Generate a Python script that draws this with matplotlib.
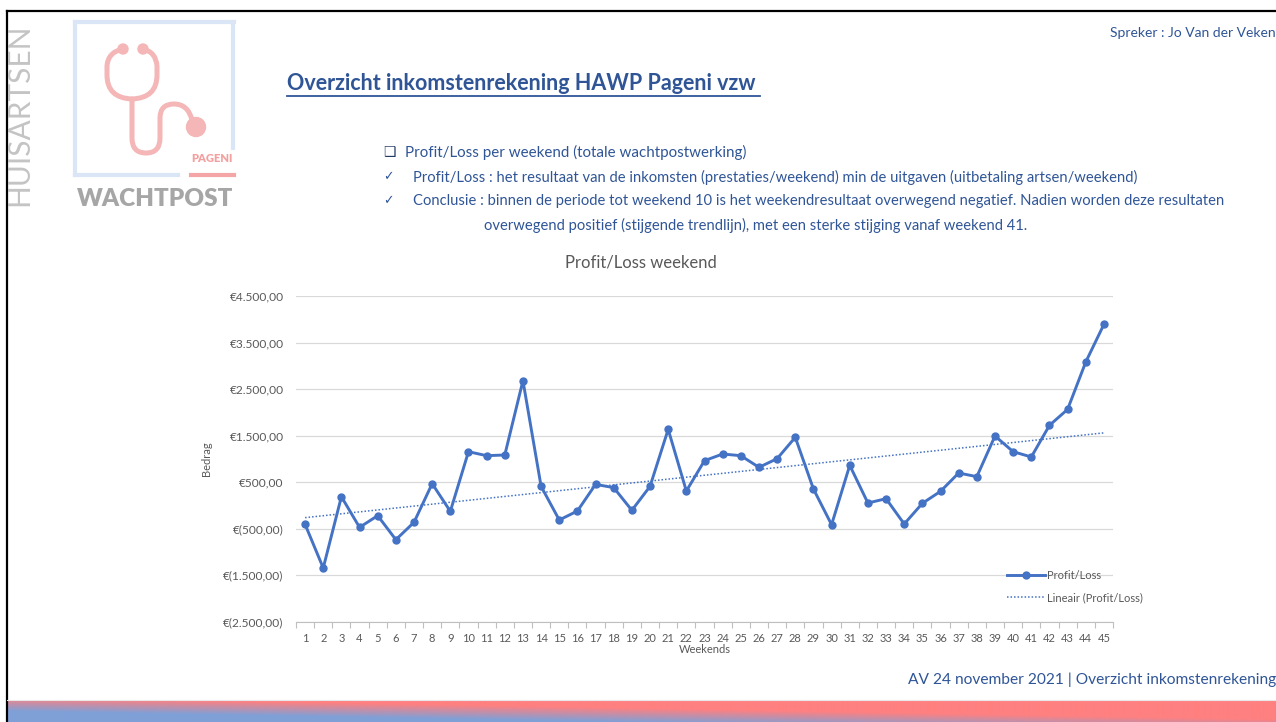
import numpy as np
import matplotlib
matplotlib.use("Agg")
import matplotlib.pyplot as plt
from matplotlib.path import Path
from matplotlib.patches import PathPatch, Circle

# ---------- data ----------
weekends = list(range(1, 46))
profit_loss = [-407, -1346, 187, -472, -221, -737, -364, 467, -128, 1154,
               1068, 1083, 2680, 409, -314, -121, 452, 381, -106, 409,
               1634, 309, 961, 1104, 1068, 818, 1004, 1463, 352, -415,
               861, 51, 144, -400, 44, 302, 696, 617, 1491, 1154,
               1040, 1720, 2064, 3082, 3891]
y_ticks = [-2500, -1500, -500, 500, 1500, 2500, 3500, 4500]

BLUE = "#4472C4"
TXT = "#2F5597"
GREY = "#595959"

plt.rcParams['font.family'] = ['Lato', 'DejaVu Sans']

fig = plt.figure(figsize=(12.76, 7.22), dpi=100)

# background layer in pixel coordinates
bg = fig.add_axes([0, 0, 1, 1])
bg.set_xlim(0, 1276)
bg.set_ylim(722, 0)
bg.axis("off")

# slide frame
bg.plot([7, 1276], [11, 11], color="black", lw=1.6)
bg.plot([7, 7], [11, 722], color="black", lw=1.6)

# bottom gradient band
H, W = 22, 1276
s = np.linspace(0, 1, H)[:, None]
h = np.linspace(0, 1, W)[None, :]
t = np.clip(0.25 + 1.5 * s - 1.6 * h, 0, 1)[..., None]
pink = np.array([255, 128, 128]) / 255
blue = np.array([127, 160, 215]) / 255
band = pink * (1 - t) + blue * t
bg.imshow(band, extent=(7, 1276, 722, 700), aspect="auto", zorder=1)
bg.plot([7, 1276], [699.5, 699.5], color="#E8E8E8", lw=0.8)

# logo
LB = "#DAE5F5"
PK = "#F4B6B6"
bg.plot([75, 234], [22, 22], color=LB, lw=3)
bg.plot([75, 75], [22, 175], color=LB, lw=3)
bg.plot([75, 178], [175, 175], color=LB, lw=3)
bg.plot([233, 233], [22, 148], color=LB, lw=3)
bg.plot([191, 234], [175, 175], color="#F4A6A6", lw=3)
bg.text(212, 158, "PAGENI", color="#F4A0A0", fontsize=8, fontweight="heavy",
        ha="center", va="center")
bg.text(155, 199, "WACHTPOST", color="#A6A6A6", fontsize=17.5, fontweight="heavy",
        ha="center", va="center")
bg.text(19, 115, "HUISARTSEN", color="#C4C4C4", fontsize=21.5, rotation=90,
        ha="center", va="center")

verts = [(123, 49), (108, 52), (107, 66),
         (107, 75), (107, 98), (132, 99),
         (157, 98), (157, 75), (157, 66),
         (156, 52), (143, 49)]
codes = [Path.MOVETO, Path.CURVE3, Path.CURVE3,
         Path.LINETO, Path.CURVE3, Path.CURVE3,
         Path.CURVE3, Path.CURVE3, Path.LINETO,
         Path.CURVE3, Path.CURVE3]
bg.add_patch(PathPatch(Path(verts, codes), fill=False, ec=PK, lw=3.6, capstyle="round"))
verts2 = [(132, 99), (132, 138), (132, 153), (146, 153), (160, 153), (160, 138),
          (160, 118), (160, 104), (174, 104), (188, 104), (192, 120)]
codes2 = [Path.MOVETO, Path.LINETO, Path.CURVE3, Path.CURVE3, Path.CURVE3, Path.CURVE3,
          Path.LINETO, Path.CURVE3, Path.CURVE3, Path.CURVE3, Path.CURVE3]
bg.add_patch(PathPatch(Path(verts2, codes2), fill=False, ec=PK, lw=3.6, capstyle="round"))
bg.add_patch(Circle((123, 49), 5, color=PK))
bg.add_patch(Circle((143, 49), 5, color=PK))
bg.add_patch(Circle((196, 127), 9.5, color=PK))

# header texts
bg.text(1276, 33, "Spreker : Jo Van der Veken", color=TXT, fontsize=10, ha="right", va="center")
bg.text(287, 84, "Overzicht inkomstenrekening HAWP Pageni vzw", color=TXT,
        fontsize=15.5, fontweight="bold", ha="left", va="center")
bg.plot([287, 760], [96, 96], color=TXT, lw=1.3)

bg.text(383, 152, "\u2751", color="#1F3864", fontsize=10, family="DejaVu Sans", ha="left", va="center")
bg.text(405, 152, "Profit/Loss per weekend (totale wachtpostwerking)", color=TXT,
        fontsize=10.9, ha="left", va="center")
bg.text(383, 177, "\u2713", color=TXT, fontsize=9, family="DejaVu Sans", ha="left", va="center")
bg.text(413, 177, "Profit/Loss : het resultaat van de inkomsten (prestaties/weekend) min de uitgaven "
        "(uitbetaling artsen/weekend)", color=TXT, fontsize=10.6, ha="left", va="center")
bg.text(383, 201, "\u2713", color=TXT, fontsize=9, family="DejaVu Sans", ha="left", va="center")
bg.text(413, 201, "Conclusie : binnen de periode tot weekend 10 is het weekendresultaat overwegend negatief. "
        "Nadien worden deze resultaten", color=TXT, fontsize=10.6, ha="left", va="center")
bg.text(484, 225, "overwegend positief (stijgende trendlijn), met een sterke stijging vanaf weekend 41.",
        color=TXT, fontsize=10.6, ha="left", va="center")

bg.text(641, 262, "Profit/Loss weekend", color=GREY, fontsize=12, ha="center", va="center")
bg.text(1276, 680, "AV 24 november 2021 | Overzicht inkomstenrekening", color=TXT,
        fontsize=11.2, ha="right", va="center")

# ---------- chart ----------
ax = fig.add_axes([296 / 1276, 1 - 621.7 / 722, 817 / 1276, 325.7 / 722])
ax.set_facecolor("none")

x = np.array(weekends)
y = np.array(profit_loss)
coef = np.polyfit(x, y, 1)
ax.plot(x, y, color=BLUE, lw=2.1, marker="o", ms=5, label="Profit/Loss", zorder=3)
ax.plot(x, np.polyval(coef, x), color=BLUE, lw=1.1, ls=(0, (1, 1.3)),
        label="Lineair (Profit/Loss)", zorder=2)

ax.set_xlim(0.5, 45.5)
ax.set_ylim(-2500, 4500)
ax.set_yticks(y_ticks)


def euro(v):
    txt = f"{abs(v):,.2f}".replace(",", "X").replace(".", ",").replace("X", ".")
    return f"€{txt}" if v >= 0 else f"€({txt})"


ax.set_yticklabels([euro(v) for v in y_ticks])
ax.set_xticks(weekends)
ax.set_xticks(np.arange(0.5, 46, 1), minor=True)
ax.tick_params(axis="x", which="major", length=0, labelsize=8, labelcolor=GREY, pad=8)
ax.tick_params(axis="x", which="minor", length=4, color="#BFBFBF", width=0.8)
ax.tick_params(axis="y", length=0, labelsize=8.6, labelcolor=GREY, pad=9)
ax.grid(axis="y", color="#D9D9D9", lw=0.9)
for side in ["top", "right", "left"]:
    ax.spines[side].set_visible(False)
ax.spines["bottom"].set_color("#BFBFBF")
ax.set_xlabel("Weekends", fontsize=8, color=GREY, labelpad=0)
ax.set_ylabel("Bedrag", fontsize=8, color=GREY, labelpad=8)

ax.legend(loc="upper left", bbox_to_anchor=(0.864, 0.175), frameon=False, fontsize=8,
          handlelength=3.4, labelspacing=1.0, labelcolor=GREY, borderpad=0, handletextpad=0.2)

fig.savefig("out.png", dpi=100)
